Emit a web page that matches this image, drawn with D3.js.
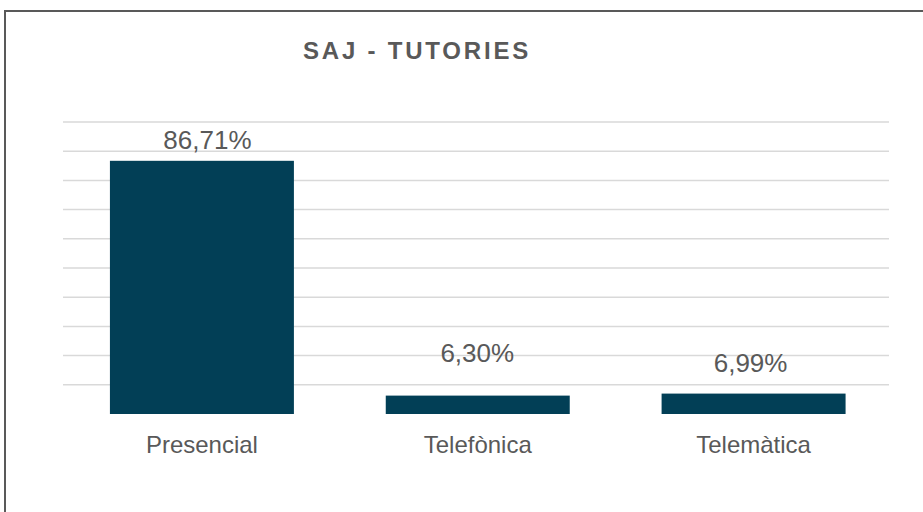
<!DOCTYPE html>
<html><head><meta charset="utf-8">
<script src="https://cdn.jsdelivr.net/npm/d3@7"></script>
<style>body{margin:0;background:#fff}svg{display:block}</style>
</head><body>
<script>
const categories = ["Presencial", "Telefònica", "Telemàtica"];
const values = [86.71, 6.30, 6.99];
const valueLabels = ["86,71%", "6,30%", "6,99%"];
const gridTicks = [10, 20, 30, 40, 50, 60, 70, 80, 90, 100];
const title = "SAJ - TUTORIES";
// label nudges (style)
const labelDy = [-11.5, -34, -22];
const labelDx = [5.5, -0.5, -3];

const W = 923, H = 512;
const FONT = "Liberation Sans, Arial, sans-serif";
const svg = d3.select("body").append("svg").attr("width", W).attr("height", H);
svg.append("rect").attr("width", W).attr("height", H).attr("fill", "#fff");
svg.append("rect").attr("x", 5).attr("y", 11).attr("width", W + 10).attr("height", H + 10)
  .attr("fill", "none").attr("stroke", "#595959").attr("stroke-width", 2);

const x = d3.scaleBand().domain(categories).range([64, 891.5]).paddingInner(0.333).paddingOuter(0.1665);
const y = d3.scaleLinear().domain([0, 100]).range([414, 122]);

svg.append("g").selectAll("line").data(gridTicks).join("line")
  .attr("x1", 63).attr("x2", 889)
  .attr("y1", d => y(d)).attr("y2", d => y(d))
  .attr("stroke", "#d9d9d9").attr("stroke-width", 1.5);

svg.append("g").selectAll("rect").data(values).join("rect")
  .attr("x", (d, i) => x(categories[i]))
  .attr("width", x.bandwidth())
  .attr("y", d => y(d))
  .attr("height", d => y(0) - y(d))
  .attr("fill", "#023f56");

svg.append("g").selectAll("text").data(values).join("text")
  .attr("x", (d, i) => x(categories[i]) + x.bandwidth() / 2 + labelDx[i])
  .attr("y", (d, i) => y(d) + labelDy[i])
  .attr("text-anchor", "middle")
  .attr("font-family", FONT)
  .attr("font-size", 26).attr("fill", "#595959")
  .text((d, i) => valueLabels[i]);

const xAxis = svg.append("g").attr("transform", "translate(0,414)")
  .call(d3.axisBottom(x).tickSize(0).tickPadding(22));
xAxis.select(".domain").remove();
xAxis.selectAll("text").attr("font-family", FONT)
  .attr("font-size", 24).attr("fill", "#595959");

svg.append("text").attr("x", 417).attr("y", 58.5).attr("text-anchor", "middle")
  .attr("font-family", FONT).attr("font-weight", "bold")
  .attr("font-size", 24).attr("letter-spacing", 2.8).attr("fill", "#595959")
  .text(title);
</script>
</body></html>
